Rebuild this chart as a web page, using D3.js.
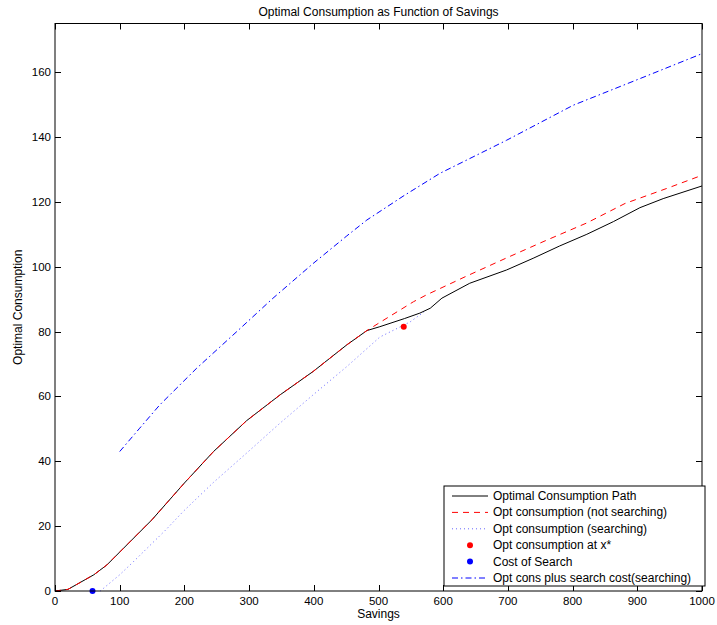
<!DOCTYPE html>
<html><head><meta charset="utf-8">
<script src="https://cdn.jsdelivr.net/npm/d3@7/dist/d3.min.js"></script>
<style>
html,body{margin:0;padding:0;background:#fff;}
svg{display:block;font-family:"Liberation Sans",Arial,Helvetica,sans-serif;}
</style></head>
<body>
<svg id="chart" width="717" height="625"></svg>
<script>
// ---- data ----
const xTicks = [0,100,200,300,400,500,600,700,800,900,1000];
const yTicks = [0,20,40,60,80,100,120,140,160];

const pathX = [0,20,60,80,100,150,200,245,296,348,399,451,482,502,540,564,580,598,641,698,739,780,822,863,904,940,1000];
const pathY = [0,0.5,5,8,12,22,33.3,43,52.5,60.5,67.7,75.9,80.3,81.5,84,85.7,87.2,90.3,94.9,99,102.6,106.4,110,113.9,118.2,121,124.9];

const notSearchX = [0,20,60,80,100,150,200,245,296,348,399,451,482,502,554,574,636,700,760,822,881,945,1000];
const notSearchY = [0,0.5,5,8,12,22,33.3,43,52.5,60.5,67.7,75.9,80.3,82.8,89.2,91.3,97.1,102.9,108.2,113.5,119.5,124.1,128.2];

const searchX = [70,100,121,172,198,224,245,296,348,399,451,497,502,549,570];
const searchY = [0,5,9,19,24.5,29.5,33.5,42.5,51.8,60.5,69.2,77.4,78.3,83,86];

const plusCostX = [100,130,162,219,281,337,399,451,482,540,595,698,801,904,1000];
const plusCostY = [43,50,57.4,68.7,80,90.3,101,109.5,114.4,122,128.8,139,149.8,158,165.7];

const optAtXStar = [539, 81.5];
const costOfSearch = [58, 0];

const legendLabels = ["Optimal Consumption Path","Opt consumption (not searching)","Opt consumption (searching)","Opt consumption at x*","Cost of Search","Opt cons plus search cost(searching)"];

// ---- drawing ----
const svg = d3.select("#chart");
const L = 55, R = 702, T = 23.5, B = 591;
const x = d3.scaleLinear().domain([0,1000]).range([L,R]);
const y = d3.scaleLinear().domain([0,175]).range([B,T]);

const g = svg.append("g");
g.append("rect").attr("x",L).attr("y",T).attr("width",R-L).attr("height",B-T).attr("fill","#fff");

const zip = (a,b)=>a.map((v,i)=>[v,b[i]]);
const line = d3.line().x(d=>x(d[0])).y(d=>y(d[1]));

g.append("path").datum(zip(plusCostX,plusCostY)).attr("d",line).attr("fill","none")
 .attr("stroke","#0000ff").attr("stroke-width",1).attr("stroke-dasharray","6,3,1.5,3");
g.append("path").datum(zip(searchX,searchY)).attr("d",line).attr("fill","none")
 .attr("stroke","#0000ff").attr("stroke-width",1).attr("stroke-dasharray","1,3").attr("stroke-opacity",0.6);
g.append("path").datum(zip(pathX,pathY)).attr("d",line).attr("fill","none")
 .attr("stroke","#000").attr("stroke-width",1);
g.append("path").datum(zip(notSearchX,notSearchY)).attr("d",line).attr("fill","none")
 .attr("stroke","#ff0000").attr("stroke-width",1).attr("stroke-dasharray","6,5");

g.append("circle").attr("cx",x(optAtXStar[0])).attr("cy",y(optAtXStar[1])).attr("r",3).attr("fill","#ff0000");
g.append("circle").attr("cx",x(costOfSearch[0])).attr("cy",y(costOfSearch[1])).attr("r",3).attr("fill","#0000ff");

// axes box
const ax = svg.append("g");
ax.append("rect").attr("x",L).attr("y",T).attr("width",R-L).attr("height",B-T)
  .attr("fill","none").attr("stroke","#000").attr("stroke-width",1);
const tl = 6;
xTicks.forEach(t=>{
  const px = Math.round(x(t))+0.5;
  ax.append("line").attr("x1",px).attr("x2",px).attr("y1",B).attr("y2",B-tl).attr("stroke","#000");
  ax.append("line").attr("x1",px).attr("x2",px).attr("y1",T).attr("y2",T+tl).attr("stroke","#000");
  ax.append("text").attr("x",x(t)).attr("y",B+14).attr("text-anchor","middle")
    .attr("font-size",11.5).text(t);
});
yTicks.forEach(t=>{
  const py = Math.round(y(t))+0.5;
  ax.append("line").attr("x1",L).attr("x2",L+tl).attr("y1",py).attr("y2",py).attr("stroke","#000");
  ax.append("line").attr("x1",R).attr("x2",R-tl).attr("y1",py).attr("y2",py).attr("stroke","#000");
  ax.append("text").attr("x",L-4).attr("y",y(t)+4).attr("text-anchor","end")
    .attr("font-size",11.5).text(t);
});

svg.append("text").attr("x",(L+R)/2).attr("y",16).attr("text-anchor","middle")
  .attr("font-size",12).text("Optimal Consumption as Function of Savings");
svg.append("text").attr("x",(L+R)/2).attr("y",618).attr("text-anchor","middle")
  .attr("font-size",12).text("Savings");
svg.append("text").attr("transform",`translate(22,${(T+B)/2}) rotate(-90)`).attr("text-anchor","middle")
  .attr("font-size",12).text("Optimal Consumption");

// legend
const lg = svg.append("g");
const lx = 444, ly = 486, lw = 261, lh = 100;
lg.append("rect").attr("x",lx).attr("y",ly).attr("width",lw).attr("height",lh)
  .attr("fill","#fff").attr("stroke","#000").attr("stroke-width",1);
const styles = [
  {type:"line",color:"#000",dash:null},
  {type:"line",color:"#ff0000",dash:"6,5"},
  {type:"line",color:"#0000ff",dash:"1,3",op:0.6},
  {type:"dot",color:"#ff0000"},
  {type:"dot",color:"#0000ff"},
  {type:"line",color:"#0000ff",dash:"6,3,1.5,3"}
];
legendLabels.forEach((lab,i)=>{
  const cy = ly + 10 + i*16.4;
  const s = styles[i];
  if(s.type==="line"){
    lg.append("line").attr("x1",452).attr("x2",488).attr("y1",cy).attr("y2",cy)
      .attr("stroke",s.color).attr("stroke-width",1)
      .attr("stroke-dasharray",s.dash).attr("stroke-opacity",s.op||1);
  } else {
    lg.append("circle").attr("cx",470).attr("cy",cy).attr("r",3).attr("fill",s.color);
  }
  lg.append("text").attr("x",493).attr("y",cy+4).attr("font-size",12).text(lab);
});
</script>
</body></html>
